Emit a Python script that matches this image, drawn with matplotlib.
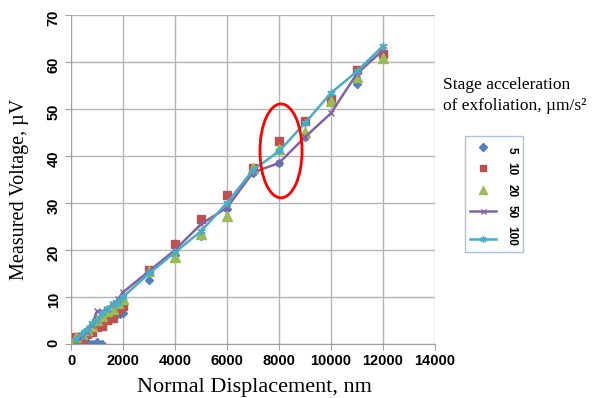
import numpy as np
import matplotlib
matplotlib.use("Agg")
import matplotlib.pyplot as plt
from matplotlib.patches import Ellipse

# podatki (odčitani s slike)
x_5 = [200, 400, 600, 800, 1000, 1200, 1500, 1700, 1900, 2000,
       3000, 4000, 5000, 6000, 7000, 8000, 9000, 10000, 11000, 12000]
y_5 = [0.5, 0.0, 0.3, 0.0, 0.5, 0.0, 5.0, 6.0, 6.3, 6.5,
       13.5, 19.0, 23.0, 28.7, 36.3, 38.5, 44.0, 52.0, 55.3, 62.0]

x_10 = [200, 400, 600, 800, 1000, 1200, 1400, 1600, 1800, 2000,
        3000, 4000, 5000, 6000, 7000, 8000, 9000, 10000, 11000, 12000]
y_10 = [1.5, 1.0, 2.2, 2.6, 3.5, 3.8, 5.0, 5.5, 7.0, 8.0,
        15.7, 21.2, 26.6, 31.7, 37.5, 43.2, 47.4, 52.1, 58.3, 61.8]

x_20 = [200, 400, 600, 800, 1000, 1200, 1400, 1600, 1800, 2000,
        3000, 4000, 5000, 6000, 7000, 8000, 9000, 10000, 11000, 12000]
y_20 = [1.5, 2.0, 3.0, 3.8, 5.0, 6.0, 7.0, 7.5, 8.7, 9.5,
        15.5, 18.5, 23.5, 27.2, 37.5, 41.5, 45.1, 51.7, 56.8, 60.9]

x_50 = [200, 400, 600, 800, 1000, 1200, 1400, 1600, 1800, 2000,
        3000, 4000, 5000, 6000, 7000, 8000, 9000, 10000, 11000, 12000]
y_50 = [0.5, 1.5, 2.5, 4.0, 7.0, 6.8, 7.5, 8.5, 9.5, 11.0,
        15.5, 20.0, 25.5, 29.0, 36.5, 38.5, 44.0, 49.1, 57.5, 62.5]

x_100 = [200, 400, 600, 800, 1000, 1200, 1400, 1600, 1800, 2000,
         3000, 4000, 5000, 6000, 7000, 8000, 9000, 10000, 11000, 12000]
y_100 = [1.0, 2.0, 3.0, 4.5, 5.0, 6.5, 7.5, 8.5, 9.0, 10.0,
         15.0, 19.5, 24.0, 30.0, 37.0, 41.0, 47.0, 53.4, 58.0, 63.4]

oznake = ['5', '10', '20', '50', '100']

plt.rcParams['font.family'] = 'Liberation Sans'
plt.rcParams['font.weight'] = 'bold'

fig = plt.figure(figsize=(6.08, 3.98), dpi=100)
ax = fig.add_axes([0.117, 0.136, 0.598, 0.826])

ax.plot(x_5, y_5, linestyle='none', marker='D', ms=4.5, color='#4F81BD', label=oznake[0])
ax.plot(x_10, y_10, linestyle='none', marker='s', ms=6, color='#C0504D', label=oznake[1])
ax.plot(x_20, y_20, linestyle='none', marker='^', ms=6.5, color='#9BBB59', label=oznake[2])
ax.plot(x_50, y_50, '-', marker='x', ms=4.5, mew=1, lw=1.8, color='#8064A2', label=oznake[3])
ax.plot(x_100, y_100, '-', marker=(6, 2, 0), ms=6, mew=1, lw=1.8, color='#4BACC6', label=oznake[4])

# rdeča elipsa okoli točke pri 8000 nm
ax.add_patch(Ellipse((8080, 41.1), 1620, 20, fill=False, edgecolor='red', lw=2, zorder=5))

ax.set_xlim(0, 14000)
ax.set_ylim(0, 70)
ax.set_xticks(np.arange(0, 14001, 2000))
ax.set_yticks(np.arange(0, 71, 10))
ax.grid(True, color='#b4b4b4', lw=1)
ax.set_axisbelow(True)
for s in ['top', 'right']:
    ax.spines[s].set_visible(False)
for s in ['left', 'bottom']:
    ax.spines[s].set_color('#a0a0a0')
ax.tick_params(colors='#a0a0a0', length=4, labelcolor='black', labelsize=10.5)
ax.tick_params(axis='y', labelrotation=90)

ax.set_xlabel('Normal Displacement, nm', fontfamily='Liberation Serif', fontweight='normal',
              fontsize=16)
ax.xaxis.set_label_coords(0.503, -0.105)
ax.set_ylabel('Measured Voltage, µV', fontfamily='Liberation Serif', fontweight='normal',
              fontsize=14.5)
ax.yaxis.set_label_coords(-0.115, 0.47)

fig.text(0.728, 0.76, 'Stage acceleration\nof exfoliation, µm/s²',
         fontfamily='Liberation Serif', fontweight='normal', fontsize=12.5,
         va='center', ha='left', linespacing=1.35)

leg = ax.legend(loc='upper left', bbox_to_anchor=(0.755, 0.672), bbox_transform=fig.transFigure,
                frameon=True, fancybox=False, edgecolor='#95b3d7', fontsize=8.5,
                handlelength=2.2, labelspacing=0.7, borderpad=0.45, markerscale=0.8)
leg.get_frame().set_linewidth(1)
for t in leg.get_texts():
    t.set_rotation(-90)

fig.savefig('out.png', dpi=100)
